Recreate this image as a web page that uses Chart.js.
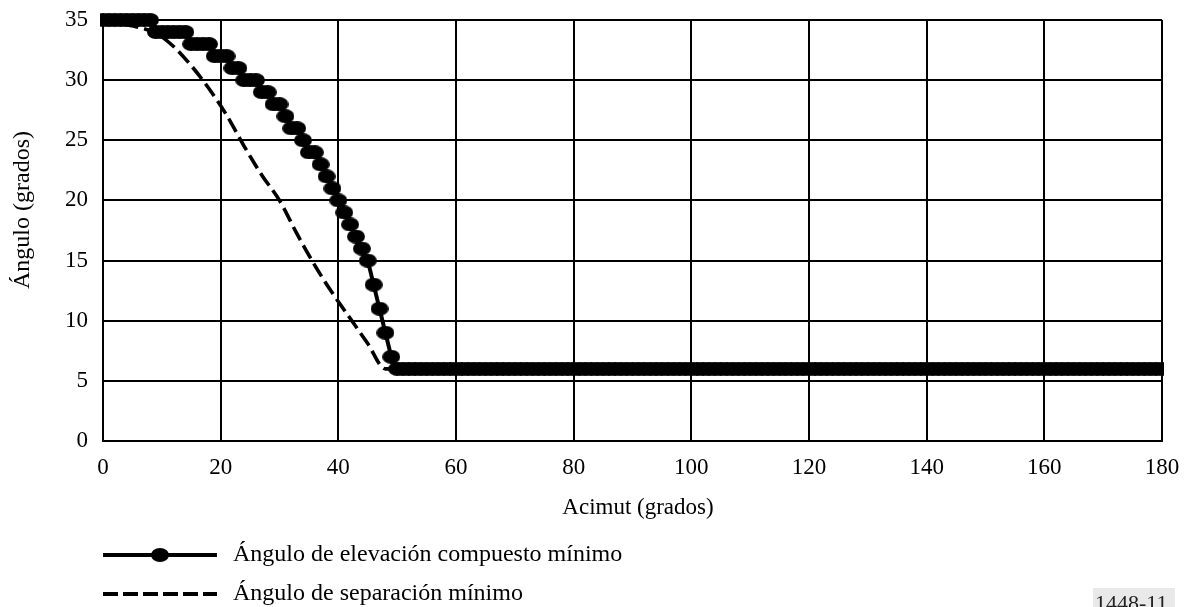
<!DOCTYPE html>
<html>
<head>
<meta charset="utf-8">
<script src="https://cdn.jsdelivr.net/npm/chart.js@4.4.1/dist/chart.umd.min.js"></script>
<style>
html,body{margin:0;padding:0;background:#fff;}
#wrap{position:relative;width:1188px;height:607px;}
</style>
</head>
<body>
<div id="wrap"><canvas id="c" width="1188" height="607"></canvas></div>
<script>
// ---------- DATA ----------
const azimuthDeg = [
  0,1,2,3,4,5,6,7,8,9,10,11,12,13,14,15,16,17,18,19,20,21,22,23,24,25,26,27,28,29,
  30,31,32,33,34,35,36,37,38,39,40,41,42,43,44,45,46,47,48,49,50,51,52,53,54,55,56,57,58,59,
  60,61,62,63,64,65,66,67,68,69,70,71,72,73,74,75,76,77,78,79,80,81,82,83,84,85,86,87,88,89,
  90,91,92,93,94,95,96,97,98,99,100,101,102,103,104,105,106,107,108,109,110,111,112,113,114,115,116,117,118,119,
  120,121,122,123,124,125,126,127,128,129,130,131,132,133,134,135,136,137,138,139,140,141,142,143,144,145,146,147,148,149,
  150,151,152,153,154,155,156,157,158,159,160,161,162,163,164,165,166,167,168,169,170,171,172,173,174,175,176,177,178,179,180
];
const minCompositeElevation = [
  35,35,35,35,35,35,35,35,35,34,34,34,34,34,34,33,33,33,33,32,32,32,31,31,30,30,30,29,29,28,
  28,27,26,26,25,24,24,23,22,21,20,19,18,17,16,15,13,11,9,7,6,6,6,6,6,6,6,6,6,6,
  6,6,6,6,6,6,6,6,6,6,6,6,6,6,6,6,6,6,6,6,6,6,6,6,6,6,6,6,6,6,
  6,6,6,6,6,6,6,6,6,6,6,6,6,6,6,6,6,6,6,6,6,6,6,6,6,6,6,6,6,6,
  6,6,6,6,6,6,6,6,6,6,6,6,6,6,6,6,6,6,6,6,6,6,6,6,6,6,6,6,6,6,
  6,6,6,6,6,6,6,6,6,6,6,6,6,6,6,6,6,6,6,6,6,6,6,6,6,6,6,6,6,6,6
];
const separationAz = [0,3,6,9,12,15,18,21,24,27,30,33,36,39,42,45,48,180];
const minSeparation = [35,34.7,34.4,33.9,32.8,31.2,29.3,27.1,24.5,22.1,20.0,17.2,14.6,12.3,10.2,8.1,6,6];

const seriesNames = ['Ángulo de elevación compuesto mínimo', 'Ángulo de separación mínimo'];
const xTicks = [0,20,40,60,80,100,120,140,160,180];
const yTicks = [0,5,10,15,20,25,30,35];
const xTitle = 'Acimut (grados)';
const yTitle = 'Ángulo (grados)';
const figureId = '1448-11';

// ---------- MARKER ----------
function makeEllipse(w, h) {
  const c = document.createElement('canvas');
  c.width = w; c.height = h;
  const g = c.getContext('2d');
  g.fillStyle = '#000';
  g.beginPath();
  g.ellipse(w / 2, h / 2, w / 2, h / 2, 0, 0, Math.PI * 2);
  g.fill();
  return c;
}
const ellipseMarker = makeEllipse(18, 14);

const FONT = '"Liberation Serif", "Times New Roman", serif';

const overlay = {
  id: 'overlay',
  afterDraw(chart) {
    const ctx = chart.ctx;
    ctx.save();
    ctx.fillStyle = '#000';
    // axis titles
    ctx.font = '23px ' + FONT;
    ctx.textAlign = 'center';
    ctx.textBaseline = 'middle';
    ctx.fillText(xTitle, 638, 508);
    ctx.save();
    ctx.font = '24px ' + FONT;
    ctx.translate(23, 210);
    ctx.rotate(-Math.PI / 2);
    ctx.fillText(yTitle, 0, 0);
    ctx.restore();

    // legend
    const rows = [555, 594];
    const x0 = 103, x1 = 217;
    chart.data.datasets.forEach((ds, i) => {
      const y = rows[i];
      ctx.save();
      ctx.strokeStyle = '#000';
      ctx.lineWidth = 4;
      ctx.setLineDash(ds.borderDash ? [15, 5] : []);
      ctx.beginPath();
      ctx.moveTo(x0, y);
      ctx.lineTo(x1, y);
      ctx.stroke();
      ctx.restore();
      if (ds.pointStyle && typeof ds.pointStyle === 'object') {
        ctx.drawImage(ellipseMarker, 160 - ellipseMarker.width / 2, y - ellipseMarker.height / 2);
      }
      ctx.font = '24px ' + FONT;
      ctx.textAlign = 'left';
      ctx.textBaseline = 'middle';
      ctx.fillStyle = '#000';
      ctx.fillText(ds.label, 233, y);
    });

    // figure id
    ctx.fillStyle = '#e9e9e9';
    ctx.fillRect(1093, 588, 82, 19);
    ctx.fillStyle = '#222';
    ctx.font = '22px ' + FONT;
    ctx.textAlign = 'left';
    ctx.textBaseline = 'alphabetic';
    ctx.fillText(figureId, 1095, 610);
    ctx.restore();
  }
};

const tickFont = { family: FONT, size: 23 };

new Chart(document.getElementById('c'), {
  type: 'line',
  data: {
    datasets: [
      {
        label: seriesNames[0],
        data: azimuthDeg.map((x, i) => ({ x: x, y: minCompositeElevation[i] })),
        borderColor: '#000',
        backgroundColor: '#000',
        borderWidth: 4,
        pointStyle: ellipseMarker,
        pointRadius: 1,
        pointHoverRadius: 1,
        pointBorderWidth: 0,
        pointHoverBorderWidth: 0,
        tension: 0,
        clip: { left: 3, top: 10, right: 2, bottom: 10 }
      },
      {
        label: seriesNames[1],
        data: separationAz.map((x, i) => ({ x: x, y: minSeparation[i] })),
        borderColor: '#000',
        borderWidth: 3.6,
        borderDash: [15, 6],
        pointRadius: 0,
        pointHoverRadius: 0,
        cubicInterpolationMode: 'monotone',
        clip: 2
      }
    ]
  },
  options: {
    responsive: false,
    animation: false,
    events: [],
    layout: { autoPadding: false, padding: { left: 0, top: 20, right: 26, bottom: 126 } },
    plugins: { legend: { display: false }, tooltip: { enabled: false } },
    scales: {
      x: {
        type: 'linear',
        min: 0, max: 180,
        afterBuildTicks: s => { s.ticks = xTicks.map(v => ({ value: v })); },
        ticks: { color: '#000', font: tickFont, padding: 13, maxRotation: 0 },
        grid: { color: '#000', lineWidth: 2, drawTicks: false },
        border: { color: '#000', width: 2 },
        afterFit: s => { s.height = 40; s.paddingLeft = 0; s.paddingRight = 0; s.paddingTop = 0; s.paddingBottom = 0; }
      },
      y: {
        type: 'linear',
        min: 0, max: 35,
        afterBuildTicks: s => { s.ticks = yTicks.map(v => ({ value: v })); },
        ticks: { color: '#000', font: tickFont, padding: 15 },
        grid: { color: '#000', lineWidth: 2, drawTicks: false },
        border: { color: '#000', width: 2 },
        afterFit: s => { s.width = 103; s.paddingLeft = 0; s.paddingRight = 0; s.paddingTop = 0; s.paddingBottom = 0; }
      }
    }
  },
  plugins: [overlay]
});
</script>
</body>
</html>
